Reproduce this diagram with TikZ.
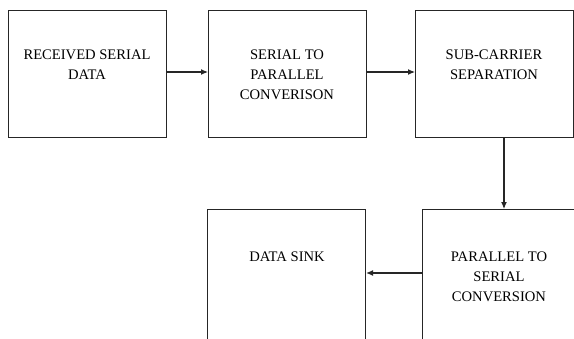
\documentclass[tikz,border=0pt]{standalone}
\usepackage{fontspec}
\setmainfont{Liberation Serif}
\usetikzlibrary{arrows.meta}
\begin{document}
\begin{tikzpicture}[x=1pt,y=-1pt,
  blockbox/.style={draw=black!85,line width=1.1pt,minimum width=158pt,minimum height=127pt,anchor=north west,inner sep=0pt},
  blocktext/.style={align=center,anchor=north,inner sep=0pt,font=\fontsize{14.6}{20}\selectfont,text=black},
  flow/.style={draw=black!85,line width=1.1pt,-{Latex[length=7pt,width=6pt]}}]
  \useasboundingbox (0,0) rectangle (574,338);
  \begin{scope}
  \clip (0,0) rectangle (574,338);
  % first row
  \node[blockbox] (rx) at (8,10) {};
  \node[blockbox] (sp) at (208,10) {};
  \node[blockbox] (sc) at (415,10) {};
  % second row (runs past the lower edge)
  \node[blockbox,minimum height=150pt] (sink) at (207,209) {};
  \node[blockbox,minimum height=150pt,minimum width=170pt] (ps) at (422,209) {};
  % captions
  \node[blocktext] (trx) at (87,50) {RECEIVED SERIAL\\DATA};
  \node[blocktext] (tsp) at (287,50) {SERIAL TO\\PARALLEL\\CONVERISON};
  \node[blocktext] (tsc) at (494,50) {SUB-CARRIER\\SEPARATION};
  \node[blocktext] (tsink) at (287,252) {DATA SINK};
  \node[blocktext] (tps) at (499,252) {PARALLEL TO\\SERIAL\\CONVERSION};
  % connectors
  \draw[flow] (rx.east |- 0,72) -- (sp.west |- 0,72);
  \draw[flow] (sp.east |- 0,72) -- (sc.west |- 0,72);
  \draw[flow] (sc.south -| 504,0) -- (ps.north -| 504,0);
  \draw[flow] (ps.west |- 0,273) -- (sink.east |- 0,273);
  \end{scope}
\end{tikzpicture}
\end{document}
